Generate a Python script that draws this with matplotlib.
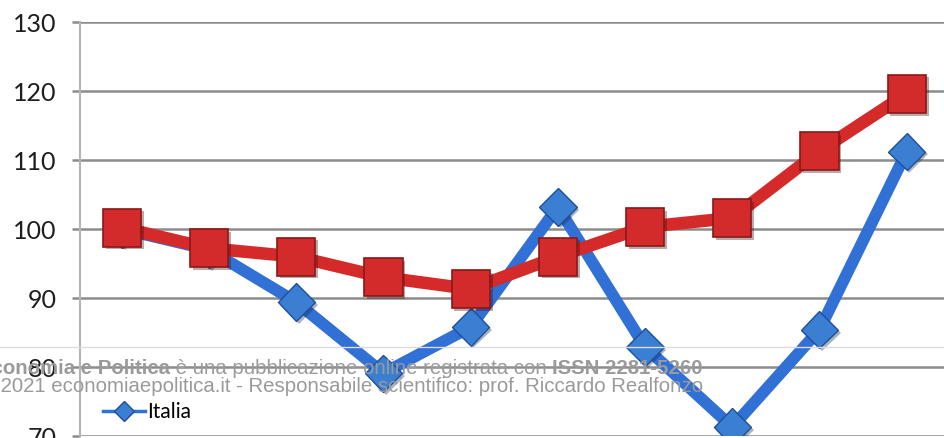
import matplotlib
matplotlib.use("Agg")
import matplotlib.pyplot as plt
import matplotlib.patheffects as pe
from matplotlib.lines import Line2D

# values
positions = list(range(10))
italia = [100, 97, 89.4, 79.1, 85.8, 103.2, 82.9, 71.3, 85.4, 111.2]
altro = [100.2, 97.2, 96.0, 93.0, 91.3, 96.0, 100.3, 101.6, 111.3, 119.6]
yticks = [70, 80, 90, 100, 110, 120, 130]

W, H = 945, 438
fig = plt.figure(figsize=(W / 100, H / 100), dpi=100)
ax = fig.add_axes([80 / W, 2 / H, 1 - 80 / W, 414 / H])

blue = "#3170d5"
red = "#d42a2a"
shadow = [pe.SimplePatchShadow(offset=(2, -2), alpha=0.35), pe.Normal()]

ax.plot(positions, italia, color=blue, lw=8.5, solid_joinstyle="miter", zorder=3)
ax.plot(positions, altro, color=red, lw=9, solid_joinstyle="miter", zorder=4)
ax.plot(positions, italia, ls="none", marker="D", markersize=19,
        markerfacecolor="#3b7fd2", markeredgecolor="#1e4f9c", markeredgewidth=1,
        zorder=5, path_effects=shadow)
ax.plot(positions, altro, ls="none", marker="s", markersize=27.5,
        markerfacecolor="#d32b2b", markeredgecolor="#8a1818", markeredgewidth=1.2,
        zorder=6, path_effects=shadow)

ax.set_xlim(-0.48, 9.44)
ax.set_ylim(70, 130)
ax.set_yticks(yticks)
ax.set_xticks([])
ax.yaxis.grid(True, color="#8c8c8c", lw=1.8)
ax.set_axisbelow(True)
for s in ["top", "right", "bottom"]:
    ax.spines[s].set_visible(False)
ax.spines["left"].set_color("#b5b5b5")
ax.spines["left"].set_linewidth(1.5)
ax.tick_params(axis="y", length=6, width=1.8, color="#8c8c8c", pad=11,
               labelsize=18, labelcolor="#1e1e1e")
for lab in ax.get_yticklabels():
    lab.set_family("Lato")

proxy = Line2D([], [], color=blue, lw=2.5, marker="D", markersize=10,
               markerfacecolor="#3b7fd2", markeredgecolor="#1e4f9c")
ax.legend(handles=[proxy], labels=["Italia"], loc="center left",
          bbox_to_anchor=(103 / W, 1 - 412 / H), bbox_transform=fig.transFigure,
          frameon=False, handlelength=2.0, handletextpad=0.1, borderpad=0,
          borderaxespad=0, prop={"family": "Lato", "size": 15})

# footer overlay
fig.add_artist(Line2D([0, 1], [1 - 347 / H, 1 - 347 / H], transform=fig.transFigure,
                      color="#dcdcdc", lw=1, zorder=10))
grey = "#9a9a9a"
fs = 14.7
t3 = fig.text(703 / W, 1 - 368 / H, "ISSN 2281-5260", ha="right", va="center",
              family="Liberation Sans", weight="bold", size=fs, color=grey, zorder=11)
t2 = ax.annotate(" è una pubblicazione online registrata con ", xy=(0, 0), xycoords=t3,
                 ha="right", va="bottom", family="Liberation Sans", size=fs, color=grey,
                 annotation_clip=False, zorder=11)
t1 = ax.annotate("Economia e Politica", xy=(0, 0), xycoords=t2, ha="right", va="bottom",
                 family="Liberation Sans", weight="bold", size=fs, color=grey,
                 annotation_clip=False, zorder=11)
fig.text(703 / W, 1 - 387 / H,
         "© 2021 economiaepolitica.it - Responsabile scientifico: prof. Riccardo Realfonzo",
         ha="right", va="center", family="Liberation Sans", size=fs, color=grey, zorder=11)

fig.savefig("out.png", dpi=100)
